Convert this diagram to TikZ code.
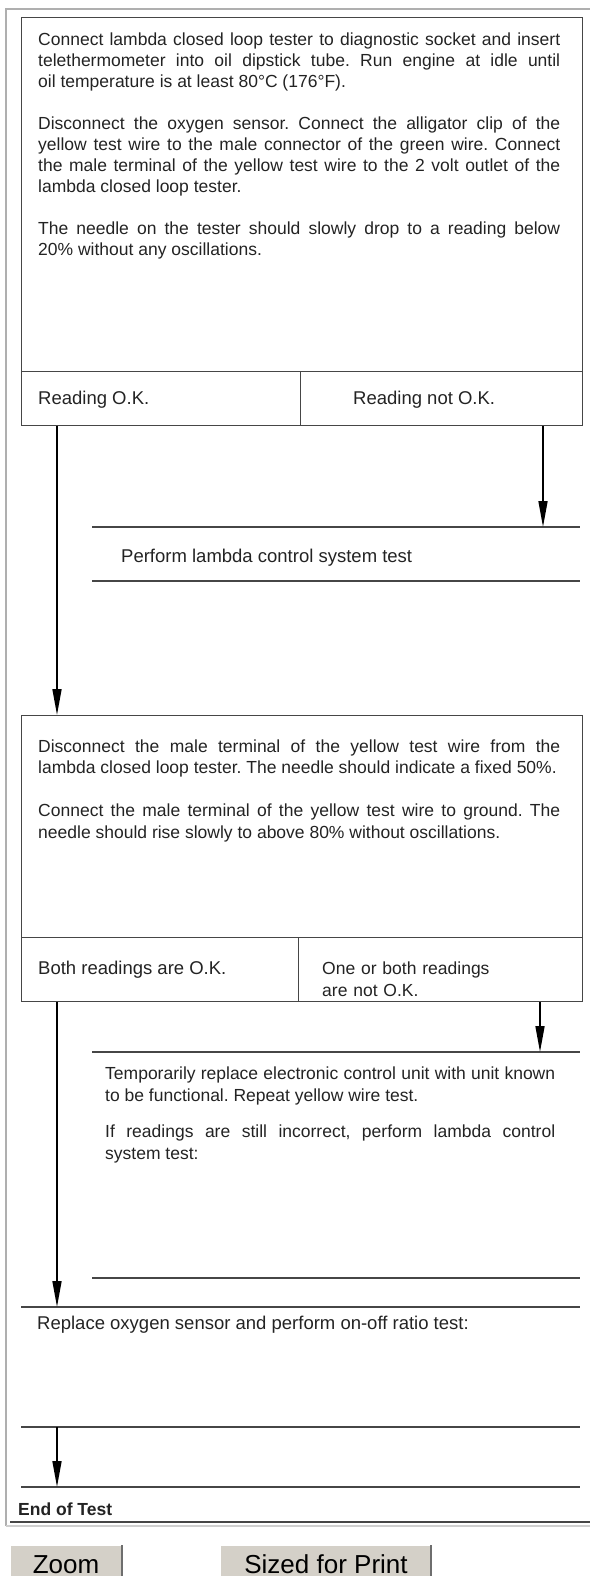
\documentclass[tikz,border=0pt]{standalone}
\usepackage{fontspec}
\setmainfont{Liberation Sans}
\usetikzlibrary{arrows.meta,positioning}
\frenchspacing

\definecolor{ink}{RGB}{35,35,35}
\definecolor{rulegray}{RGB}{70,70,70}
\definecolor{framegray}{RGB}{175,175,175}
\definecolor{btnface}{RGB}{212,208,200}
\definecolor{btnshade}{RGB}{110,110,110}

\begin{document}
\begin{tikzpicture}[x=1pt, y=-1pt,
    panel/.style={draw=rulegray, line width=1.3pt, anchor=north west, inner sep=0pt},
    txt/.style={anchor=base west, inner sep=0pt, text=ink, font=\fontsize{17.5}{21}\selectfont},
    label/.style={txt, font=\fontsize{18.5}{21}\selectfont},
    para/.style={txt, text width=522pt, align=justify},
    rule/.style={draw=rulegray, line width=1.3pt},
    flow/.style={-{Triangle[length=26pt,width=9pt]}, line width=1.6pt, black},
    button/.style={anchor=north west, fill=btnface, inner sep=0pt},
    btnlabel/.style={anchor=base, inner sep=0pt, font=\fontsize{26}{26}\selectfont}]

  \useasboundingbox (0,0) rectangle (590,1576);

  % window frame
  \draw[framegray, line width=1.5pt] (6,1526) -- (6,9) -- (590,9);
  \draw[rulegray, line width=1.5pt] (10,1522) -- (590,1522);
  \draw[framegray!60, line width=2pt] (6,1525.5) -- (590,1525.5);

  % lanes for the arrows
  \coordinate (leftlane) at (57,0);
  \coordinate (lane1) at (543,0);
  \coordinate (lane2) at (540,0);

  % first check
  \node[panel, minimum width=561pt, minimum height=354pt] (check1) at (21,17) {};
  \node[panel, minimum width=279pt, minimum height=54pt] (ok1) at (21,371) {};
  \node[panel, minimum width=282pt, minimum height=54pt] (notok1) at (300,371) {};
  \node[para] (text1) at (38,46) {Connect lambda closed loop tester to diagnostic socket and insert\linebreak
    telethermometer into oil dipstick tube. Run engine at idle until\linebreak
    oil temperature is at least 80°C (176°F).\par\vskip21pt
    Disconnect the oxygen sensor. Connect the alligator clip of the\linebreak
    yellow test wire to the male connector of the green wire. Connect\linebreak
    the male terminal of the yellow test wire to the 2 volt outlet of the\linebreak
    lambda closed loop tester.\par\vskip21pt
    The needle on the tester should slowly drop to a reading below\linebreak
    20\% without any oscillations.};
  \node[label] (ok1text) at (38,404) {Reading O.K.};
  \node[label] (notok1text) at (353,404) {Reading not O.K.};

  % lambda control system test
  \coordinate (r1w) at (92,527);
  \coordinate (r1e) at (580,527);
  \coordinate (r2w) at (92,581);
  \coordinate (r2e) at (580,581);
  \draw[rule] (r1w) -- (r1e);
  \draw[rule] (r2w) -- (r2e);
  \node[label] (lambdatest) at (121,562) {Perform lambda control system test};

  % second check
  \node[panel, minimum width=561pt, minimum height=222pt] (check2) at (21,715) {};
  \node[panel, minimum width=277pt, minimum height=64pt] (ok2) at (21,937) {};
  \node[panel, minimum width=284pt, minimum height=64pt] (notok2) at (298,937) {};
  \node[para, font=\fontsize{17.5}{21.5}\selectfont] (text2) at (38,752) {Disconnect the male terminal of the yellow test wire from the\linebreak
    lambda closed loop tester. The needle should indicate a fixed 50\%.\par\vskip21.5pt
    Connect the male terminal of the yellow test wire to ground. The\linebreak
    needle should rise slowly to above 80\% without oscillations.};
  \node[label] (ok2text) at (38,974) {Both readings are O.K.};
  \node[txt, text width=240pt, align=left, font=\fontsize{17.5}{22}\selectfont] (notok2text) at (322,974) {One or both readings\\are not O.K.};

  % control unit
  \coordinate (r3w) at (92,1052);
  \coordinate (r3e) at (580,1052);
  \coordinate (r4w) at (92,1278);
  \coordinate (r4e) at (580,1278);
  \draw[rule] (r3w) -- (r3e);
  \draw[rule] (r4w) -- (r4e);
  \node[para, text width=450pt, font=\fontsize{17.5}{22}\selectfont] (text3) at (105,1079) {Temporarily replace electronic control unit with unit known\linebreak
    to be functional. Repeat yellow wire test.\par\vskip14pt
    If readings are still incorrect, perform lambda control\linebreak
    system test:};

  % oxygen sensor
  \coordinate (r5w) at (21,1307);
  \coordinate (r5e) at (580,1307);
  \coordinate (r6w) at (21,1427);
  \coordinate (r6e) at (580,1427);
  \coordinate (r7w) at (21,1487);
  \coordinate (r7e) at (580,1487);
  \draw[rule] (r5w) -- (r5e);
  \draw[rule] (r6w) -- (r6e);
  \draw[rule] (r7w) -- (r7e);
  \node[label] (sensor) at (37,1329) {Replace oxygen sensor and perform on-off ratio test:};
  \node[txt, font=\bfseries\fontsize{17.5}{21}\selectfont] (endtest) at (18,1515) {End of Test};

  % arrows
  \draw[flow] (ok1.south -| leftlane) -- (check2.north -| leftlane);
  \draw[flow] (notok1.south -| lane1) -- (r1w -| lane1);
  \draw[flow] (ok2.south -| leftlane) -- (r5w -| leftlane);
  \draw[flow] (notok2.south -| lane2) -- (r3w -| lane2);
  \draw[flow] (r6w -| leftlane) -- (r7w -| leftlane);

  % buttons
  \node[button, minimum width=112pt, minimum height=36pt] (zoombtn) at (10,1545) {};
  \node[button, minimum width=211pt, minimum height=36pt] (printbtn) at (220,1545) {};
  \draw[white, line width=1.5pt] (zoombtn.south west) -- (zoombtn.north west) -- (zoombtn.north east);
  \draw[white, line width=1.5pt] (printbtn.south west) -- (printbtn.north west) -- (printbtn.north east);
  \draw[btnshade, line width=2pt] (zoombtn.north east) -- (zoombtn.south east);
  \draw[btnshade, line width=2pt] (printbtn.north east) -- (printbtn.south east);
  \node[btnlabel] (zoomlbl) at (66,1573) {Zoom};
  \node[btnlabel] (printlbl) at (326,1573) {Sized for Print};
\end{tikzpicture}
\end{document}
